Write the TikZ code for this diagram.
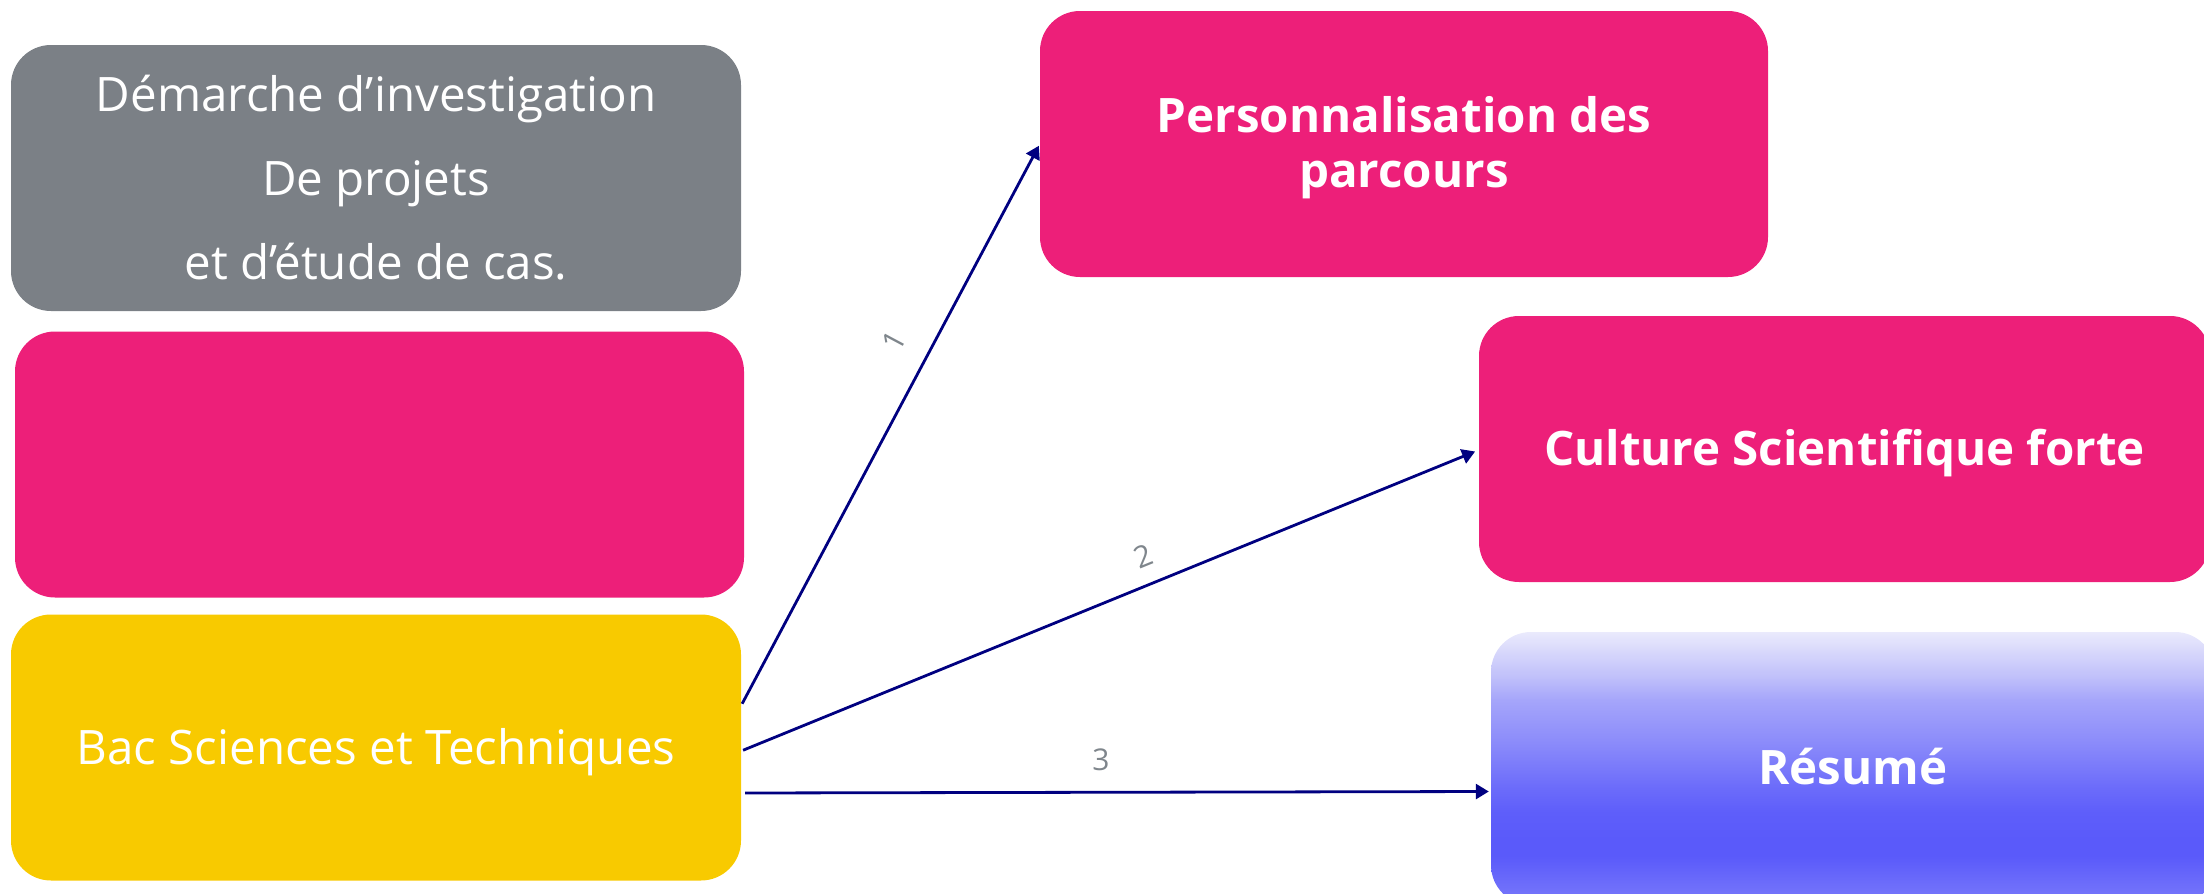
\documentclass[tikz,border=0pt]{standalone}
\usepackage{fontspec}
\setmainfont{Open Sans}
\usetikzlibrary{arrows.meta,calc}
\definecolor{greybox}{HTML}{7B8086}
\definecolor{pinkbox}{HTML}{ED1F79}
\definecolor{yellowbox}{HTML}{F8CA00}
\definecolor{navyline}{HTML}{000080}
\definecolor{labelgrey}{HTML}{7F868C}
\definecolor{rsA}{HTML}{EAEAFC}
\definecolor{rsB}{HTML}{C0C0FA}
\definecolor{rsC}{HTML}{A5A5FA}
\definecolor{rsD}{HTML}{8C8CFA}
\definecolor{rsE}{HTML}{6C6CFA}
\definecolor{rsF}{HTML}{5E5EFA}
\definecolor{rsG}{HTML}{5A5AFA}
\definecolor{rsH}{HTML}{6C6CFA}
\definecolor{rsI}{HTML}{7A7AFA}
\pgfdeclareverticalshading{resumeshade}{100bp}{color(0bp)=(rsI); color(25bp)=(rsI); color(29bp)=(rsH); color(34bp)=(rsG); color(37bp)=(rsG); color(42bp)=(rsF); color(46.6bp)=(rsE); color(55bp)=(rsD); color(62.5bp)=(rsC); color(66.8bp)=(rsB); color(75bp)=(rsA); color(100bp)=(rsA)}
\begin{document}
\begin{tikzpicture}[x=1pt,y=-1pt,
  box/.style={rectangle, rounded corners=40pt, minimum width=730pt, minimum height=266pt, inner sep=0pt, text=white, align=center},
  lighttext/.style={font=\fontsize{47.5}{84}\selectfont},
  boldtext/.style={font=\fontsize{47.5}{55}\selectfont\bfseries},
  conn/.style={draw=navyline, line width=2.8pt, -{Triangle[length=13pt,width=15pt]}},
  lab/.style={text=labelgrey, font=\fontsize{30}{30}\selectfont, inner sep=2pt}]
\clip (0,0) rectangle (2204,894);
\node[box, fill=greybox, lighttext] (demarche) at (376,178) {Démarche d’investigation\\De projets\\et d’étude de cas.};
\node[box, fill=pinkbox, minimum width=729pt] (empty) at (379.5,464.5) {};
\node[box, fill=yellowbox, lighttext] (bac) at (376,747.5) {\raisebox{-5pt}[\height][\depth]{Bac Sciences et Techniques}};
\node[box, fill=pinkbox, minimum width=728pt, boldtext] (perso) at (1404,144) {\raisebox{-5pt}[\height][\depth]{\begin{tabular}{@{}c@{}}Personnalisation des\\parcours\end{tabular}}};
\node[box, fill=pinkbox, minimum width=731pt, boldtext] (culture) at (1844.5,449) {\raisebox{-4pt}[\height][\depth]{Culture Scientifique forte}};
\node[box, shading=resumeshade, minimum width=724pt, minimum height=273pt, boldtext] (resume) at (1853,768.5) {\raisebox{2pt}[\height][\depth]{Résumé}};
\draw[conn, shorten <=2pt, shorten >=2pt] ([yshift=42pt]bac.east) -- node[lab, pos=0.62, sloped, above=22pt] {1} (perso.west);
\draw[conn, shorten <=2pt, shorten >=4pt] ([yshift=-3.5pt]bac.east) -- node[lab, pos=0.56, sloped, above=14pt] {2} ([yshift=-1pt]culture.west);
\draw[conn, shorten <=4pt, shorten >=2pt] ([yshift=-45.5pt]bac.east) -- node[lab, pos=0.48, above=18pt] {3} ([yshift=-23pt]resume.west);
\end{tikzpicture}
\end{document}
